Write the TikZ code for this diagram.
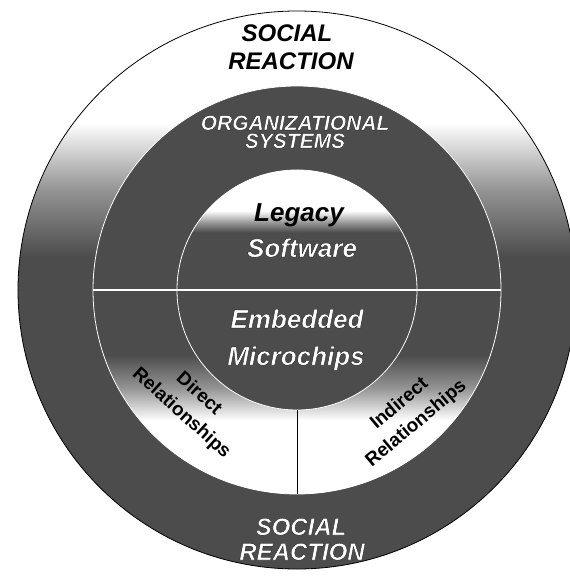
\documentclass[tikz,border=0pt]{standalone}
\usepackage{fontspec}
\setmainfont{Liberation Sans}
\definecolor{ringdark}{gray}{0.3}
\definecolor{ringmid}{gray}{0.58}
\pgfdeclareverticalshading{outershade}{100bp}{color(0bp)=(ringdark); color(53bp)=(ringdark); color(59bp)=(ringmid); color(65bp)=(white); color(100bp)=(white)}
\pgfdeclareverticalshading{middleshade}{100bp}{color(0bp)=(white); color(34bp)=(white); color(38bp)=(ringmid); color(42bp)=(ringdark); color(100bp)=(ringdark)}
\pgfdeclareverticalshading{innershade}{100bp}{color(0bp)=(ringdark); color(62bp)=(ringdark); color(64bp)=(ringmid); color(66.5bp)=(white); color(100bp)=(white)}
\newcommand{\outlined}[1]{{\color{white}\special{pdf:literal direct 0 G}\addfontfeature{FakeBold=1}#1}}
\tikzset{
ring/.style={
	circle,
	inner sep=0pt,
	outer sep=0pt,
	line width=0.8pt
},
caps/.style={
	anchor=base,
	inner sep=0pt,
	font=\bfseries\itshape\fontsize{24}{24}\selectfont
},
orgcaps/.style={
	anchor=base,
	inner sep=0pt,
	font=\bfseries\itshape\fontsize{21}{21}\selectfont
},
core/.style={
	anchor=base,
	inner sep=0pt,
	font=\bfseries\itshape\fontsize{26}{26}\selectfont
},
relation/.style={
	inner sep=0pt,
	align=center,
	font=\bfseries\fontsize{19}{26}\selectfont
}
}

\begin{document}
\begin{tikzpicture}[x=1pt,y=1pt]
		\useasboundingbox (-297,-287) rectangle (272,290);
		\node[ring, draw=black, shading=outershade, minimum size=558pt] (outer) at (0,0) {};
		\node[ring, draw=white, shading=middleshade, minimum size=408pt] (middle) at (0,0) {};
		\node[ring, draw=white, shading=innershade, minimum size=240pt] (inner) at (0,0) {};
		\draw[white, line width=1.2pt] (middle.west) -- (middle.east);
		\draw[black, line width=0.7pt] (inner.south) -- (middle.south);
		\node[caps] (social) at (-10,248) {SOCIAL};
		\node[caps] (reaction) at (-6,220) {REACTION};
		\node[orgcaps] (org) at (-2,160) {\outlined{ORGANIZATIONAL}};
		\node[orgcaps] (systems) at (-2,142) {\outlined{SYSTEMS}};
		\node[core] (legacy) at (2,68) {Legacy};
		\node[core] (software) at (5,33) {\outlined{Software}};
		\node[core] (embedded) at (0,-38) {\outlined{Embedded}};
		\node[core] (microchips) at (-1,-75) {\outlined{Microchips}};
		\node[caps] (social2) at (4,-245) {\outlined{SOCIAL}};
		\node[caps] (reaction2) at (5,-270) {\outlined{REACTION}};
		\node[relation, rotate=-42] (direct) at (-107,-114) {Direct\\Relationships};
		\node[relation, rotate=40] (indirect) at (111,-124) {Indirect\\Relationships};
\end{tikzpicture}
\end{document}
